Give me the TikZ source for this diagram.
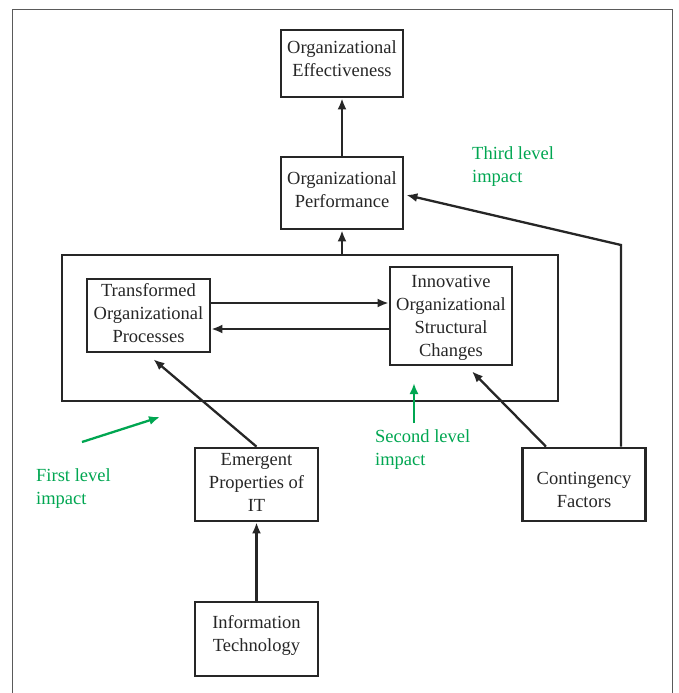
\documentclass[tikz,border=0pt]{standalone}
\usepackage{fontspec}
\setmainfont{Liberation Serif}
\usetikzlibrary{arrows.meta}
\definecolor{impgreen}{RGB}{0,166,81}
\definecolor{framegray}{RGB}{90,90,90}
\begin{document}
\begin{tikzpicture}[x=1pt,y=-1pt,
  box/.style={draw=black!85,line width=2.7pt,align=center,inner sep=0pt,
    font=\fontsize{18.5}{23}\selectfont,text=black!85,text depth=0pt},
  conn/.style={line width=2.3pt,draw=black!85,-{Latex[length=11pt,width=9pt]}},
  gconn/.style={line width=2.3pt,draw=impgreen,-{Latex[length=11pt,width=9pt]}},
  glabel/.style={text=impgreen,align=left,anchor=west,inner sep=0pt,
    font=\fontsize{18.5}{23}\selectfont}]
\useasboundingbox (0,0) rectangle (679,693);
\draw[framegray,line width=1pt] (12,705) -- (12,10) -- (672,10) -- (672,705);

\node[box,minimum width=122,minimum height=67,text height=27pt] (OE) at (342,63.5) {Organizational\\Effectiveness};
\node[box,minimum width=122,minimum height=72,text height=28pt] (OP) at (342,193) {Organizational\\Performance};
\node[draw=black!85,line width=2.7pt,minimum width=496,minimum height=146,inner sep=0pt] (big) at (310,328) {};
\node[box,minimum width=123,minimum height=73,text height=53pt] (TOP) at (148.5,315.5) {Transformed\\Organizational\\Processes};
\node[box,minimum width=122,minimum height=98,text height=80pt] (IOSC) at (451,316) {Innovative\\Organizational\\Structural\\Changes};
\node[box,minimum width=123,minimum height=73,text height=53pt] (EP) at (256.5,484.5) {Emergent\\Properties of\\IT};
\node[box,minimum width=123,minimum height=73,text height=45pt] (CF) at (584,484.5) {Contingency\\Factors};
\node[box,minimum width=123,minimum height=74,text height=24pt] (IT) at (256.5,639) {Information\\Technology};

\draw[conn] (OP.north) -- (OE.south);
\draw[conn] (OP.south |- big.north) -- (OP.south);
\draw[conn] ([yshift=12.5pt]TOP.east) -- ([yshift=12.5pt]TOP.east -| IOSC.west);
\draw[conn] ([yshift=-13.5pt]TOP.east -| IOSC.west) -- ([yshift=-13.5pt]TOP.east);
\draw[conn] (EP.north) -- ([xshift=5pt,yshift=-6pt]TOP.south);
\draw[conn] ([xshift=-38pt]CF.north) -- ([xshift=21pt,yshift=-5pt]IOSC.south);
\coordinate (bend) at (621,245);
\draw[conn] ([xshift=37pt]CF.north) -- (bend) -- ([xshift=2pt,yshift=-2pt]OP.east);
\draw[conn] (IT.north) -- (EP.south);

\coordinate (g1a) at (82,442);
\coordinate (g1b) at (160,417);
\draw[gconn] (g1a) -- (g1b);
\coordinate (g2a) at (414,423);
\coordinate (g2b) at (414,383);
\draw[gconn] (g2a) -- (g2b);

\node[glabel] (L3) at (472,166.5) {Third level\\impact};
\node[glabel] (L2) at (375,449.5) {Second level\\impact};
\node[glabel] (L1) at (36,488.5) {First level\\impact};
\end{tikzpicture}
\end{document}
